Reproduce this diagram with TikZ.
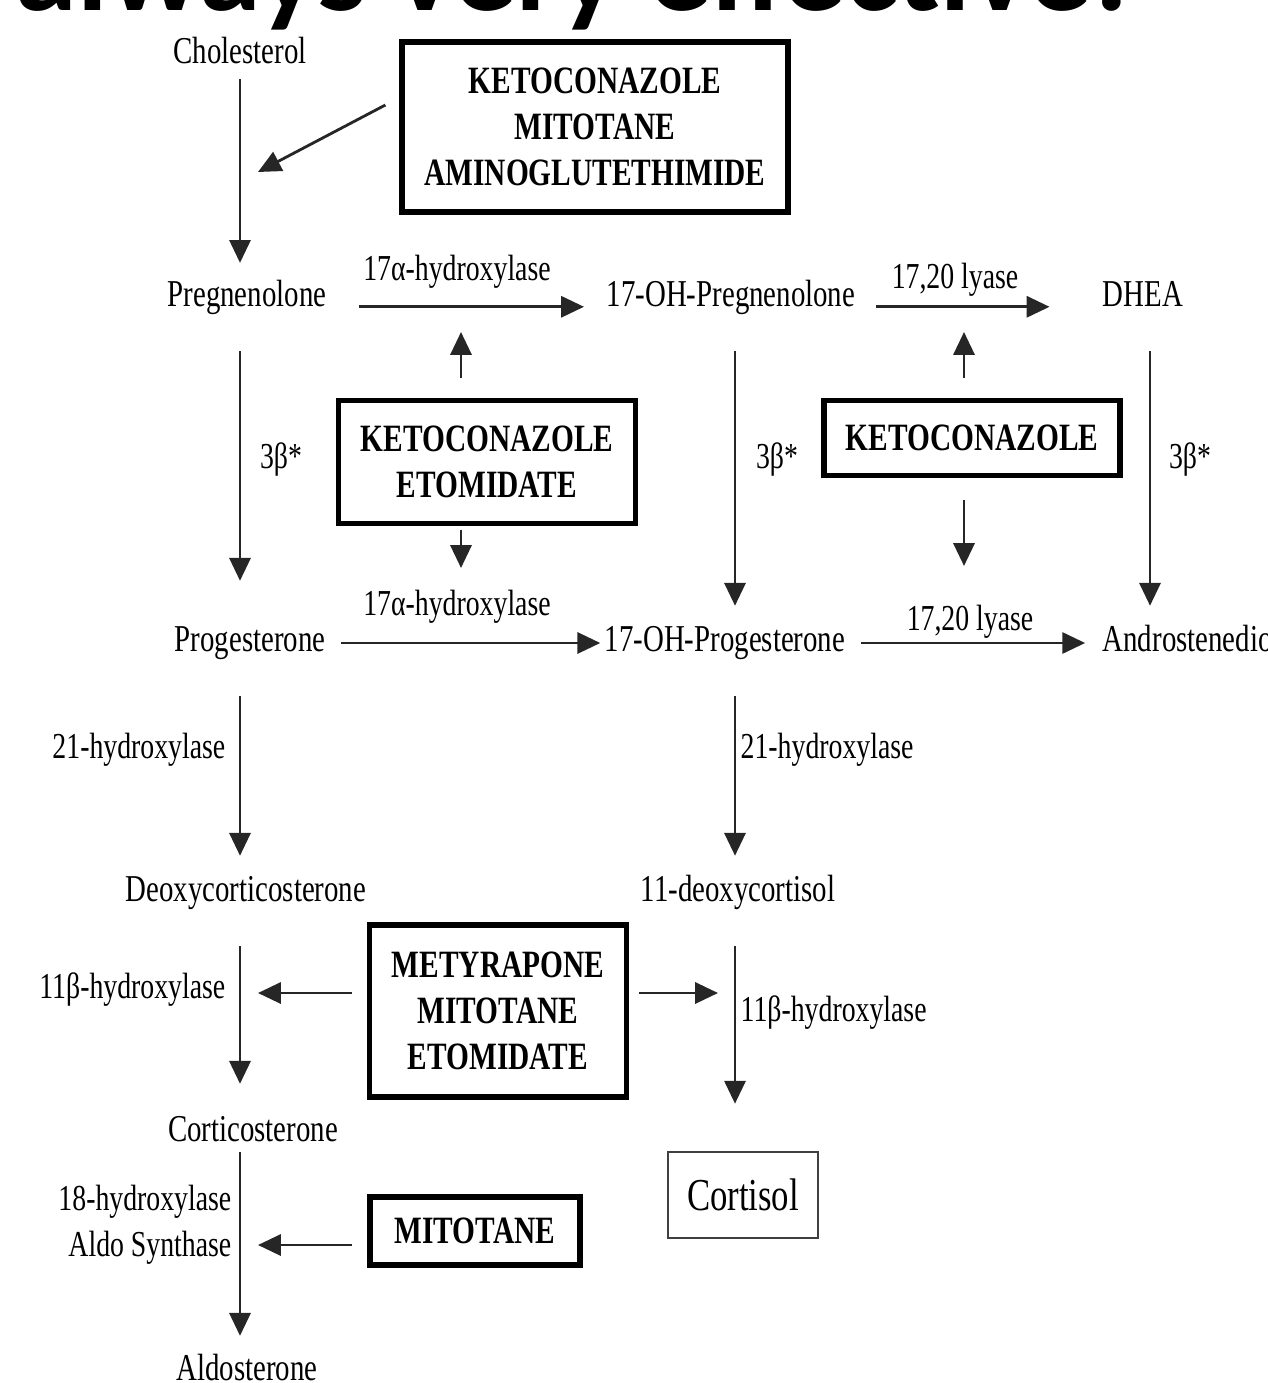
\documentclass[tikz,border=0pt]{standalone}
\usepackage{fontspec}
\setmainfont[FakeStretch=0.76]{Liberation Serif}
\newfontfamily\titlefont{Carlito}
\usetikzlibrary{arrows.meta}

\tikzset{
  arr/.style={draw=black!85, line width=0.8pt, -{Triangle[length=6.5pt,width=6pt]}},
  vgap/.style={shorten <=10.2pt, shorten >=5.7pt},
  chem/.style={inner sep=0pt, text height=0.72em, text depth=0.22em, font=\fontsize{10.8}{13}\selectfont},
  lbl/.style={inner sep=0pt, font=\fontsize{10.4}{13}\selectfont},
  drug/.style={draw, line width=1.5pt, align=center, inner sep=0pt, font=\fontsize{11}{13}\selectfont\bfseries},
}

\begin{document}
\begin{tikzpicture}[x=1cm,y=-1cm]
  \useasboundingbox (0,0) rectangle (12.67,13.83);
  \clip (0,0) rectangle (12.67,13.83);

  % heading of the slide, cut at the top
  \node[anchor=base west, inner sep=0pt, font=\titlefont\bfseries\fontsize{35.5}{40}\selectfont] (title) at (0.15,0.11) {always very effective!};

  % steroids
  \node[chem] (chol) at (2.40,0.55) {Cholesterol};
  \node[chem] (preg) at (2.47,2.98) {Pregnenolone};
  \node[chem] (ohpreg) at (7.31,2.98) {17-OH-Pregnenolone};
  \node[chem] (dhea) at (11.43,2.98) {DHEA};
  \node[chem] (prog) at (2.50,6.43) {Progesterone};
  \node[chem] (ohprog) at (7.25,6.43) {17-OH-Progesterone};
  \node[chem, anchor=west] (andro) at (11.02,6.43) {Androstenedione};
  \node[chem] (doc) at (2.46,8.93) {Deoxycorticosterone};
  \node[chem] (deox) at (7.38,8.93) {11-deoxycortisol};
  \node[chem] (cort) at (2.53,11.33) {Corticosterone};
  \node[chem] (aldo) at (2.47,13.72) {Aldosterone};
  \node[draw=black!75, line width=0.7pt, minimum width=1.5cm, minimum height=0.86cm, inner sep=0pt, font=\fontsize{13}{15}\selectfont] (cortisol) at (7.43,11.95) {Cortisol};

  % inhibitors
  \node[drug, minimum width=3.86cm, minimum height=1.70cm] (inhA) at (5.95,1.27) {KETOCONAZOLE\\MITOTANE\\AMINOGLUTETHIMIDE};
  \node[drug, minimum width=2.97cm, minimum height=1.23cm] (inhB) at (4.87,4.62) {KETOCONAZOLE\\ETOMIDATE};
  \node[drug, minimum width=2.96cm, minimum height=0.75cm] (inhC) at (9.72,4.38) {KETOCONAZOLE};
  \node[drug, minimum width=2.57cm, minimum height=1.72cm] (inhD) at (4.98,10.11) {METYRAPONE\\MITOTANE\\ETOMIDATE};
  \node[drug, minimum width=2.10cm, minimum height=0.68cm] (inhE) at (4.75,12.31) {MITOTANE};

  % enzymes
  \node[lbl] (hydA) at (4.57,2.72) {17α-hydroxylase};
  \node[lbl] (lyaseA) at (9.55,2.80) {17,20 lyase};
  \node[lbl] (hydB) at (4.57,6.07) {17α-hydroxylase};
  \node[lbl] (lyaseB) at (9.70,6.22) {17,20 lyase};
  \node[lbl] (hsdA) at (2.81,4.60) {3β*};
  \node[lbl] (hsdB) at (7.77,4.60) {3β*};
  \node[lbl] (hsdC) at (11.90,4.60) {3β*};
  \node[lbl, anchor=east] (cypA) at (2.26,7.50) {21-hydroxylase};
  \node[lbl, anchor=west] (cypB) at (7.40,7.50) {21-hydroxylase};
  \node[lbl, anchor=east] (cypC) at (2.26,9.90) {11β-hydroxylase};
  \node[lbl, anchor=west] (cypD) at (7.40,10.13) {11β-hydroxylase};
  \node[lbl, anchor=east, align=right] (cypE) at (2.32,12.25) {18-hydroxylase\\Aldo Synthase};

  \coordinate (colA) at (2.40,0);
  \coordinate (colB) at (7.35,0);
  \coordinate (colC) at (11.50,0);

  % pathway arrows
  \draw[arr, shorten <=2pt, shorten >=5.1pt] (chol.south -| colA) -- (preg.north -| colA);
  \draw[arr, shorten <=10.2pt, shorten >=12.8pt] (preg.south -| colA) -- (prog.north -| colA);
  \draw[arr, vgap] (prog.south -| colA) -- (doc.north -| colA);
  \draw[arr, shorten <=10.2pt, shorten >=9.1pt] (doc.south -| colA) -- (cort.north -| colA);
  \draw[arr, shorten <=0.6pt, shorten >=5.4pt] (cort.south -| colA) -- (aldo.north -| colA);
  \draw[arr, vgap] (ohpreg.south -| colB) -- (ohprog.north -| colB);
  \draw[arr, vgap] (ohprog.south -| colB) -- (deox.north -| colB);
  \draw[arr, shorten <=10.2pt, shorten >=13.4pt] (deox.south -| colB) -- (cortisol.north -| colB);
  \draw[arr, vgap] (dhea.south -| colC) -- (andro.north -| colC);

  \draw[arr, shorten <=9.1pt, shorten >=6.3pt] (preg.base east) -- (ohpreg.base west);
  \draw[arr, shorten <=5.7pt, shorten >=15pt] (ohpreg.base east) -- (dhea.base west);
  \draw[arr, shorten <=4.3pt, shorten >=1.1pt] (prog.east) -- (ohprog.west);
  \draw[arr, shorten <=4.3pt, shorten >=4.8pt] (ohprog.east) -- (andro.west);

  % inhibition arrows
  \coordinate (hitA) at (2.58,1.72);
  \coordinate (hitB) at (4.61,3.32);
  \coordinate (hitC) at (4.61,5.68);
  \coordinate (hitD) at (9.64,3.32);
  \coordinate (hitE) at (9.64,5.66);
  \coordinate (hitF) at (2.58,9.93);
  \coordinate (hitG) at (7.18,9.93);
  \coordinate (hitH) at (2.58,12.45);
  \draw[arr] ([shift={(-0.14,-0.22)}]inhA.west) -- (hitA);
  \draw[arr, shorten <=5.7pt] (inhB.north -| hitB) -- (hitB);
  \draw[arr, shorten <=1pt] (inhB.south -| hitC) -- (hitC);
  \draw[arr, shorten <=5.7pt] (inhC.north -| hitD) -- (hitD);
  \draw[arr, shorten <=6.3pt] (inhC.south -| hitE) -- (hitE);
  \draw[arr, shorten <=4.3pt] (inhD.west |- hitF) -- (hitF);
  \draw[arr, shorten <=2.8pt] (inhD.east |- hitG) -- (hitG);
  \draw[arr, shorten <=4.3pt] (inhE.west |- hitH) -- (hitH);
\end{tikzpicture}
\end{document}
